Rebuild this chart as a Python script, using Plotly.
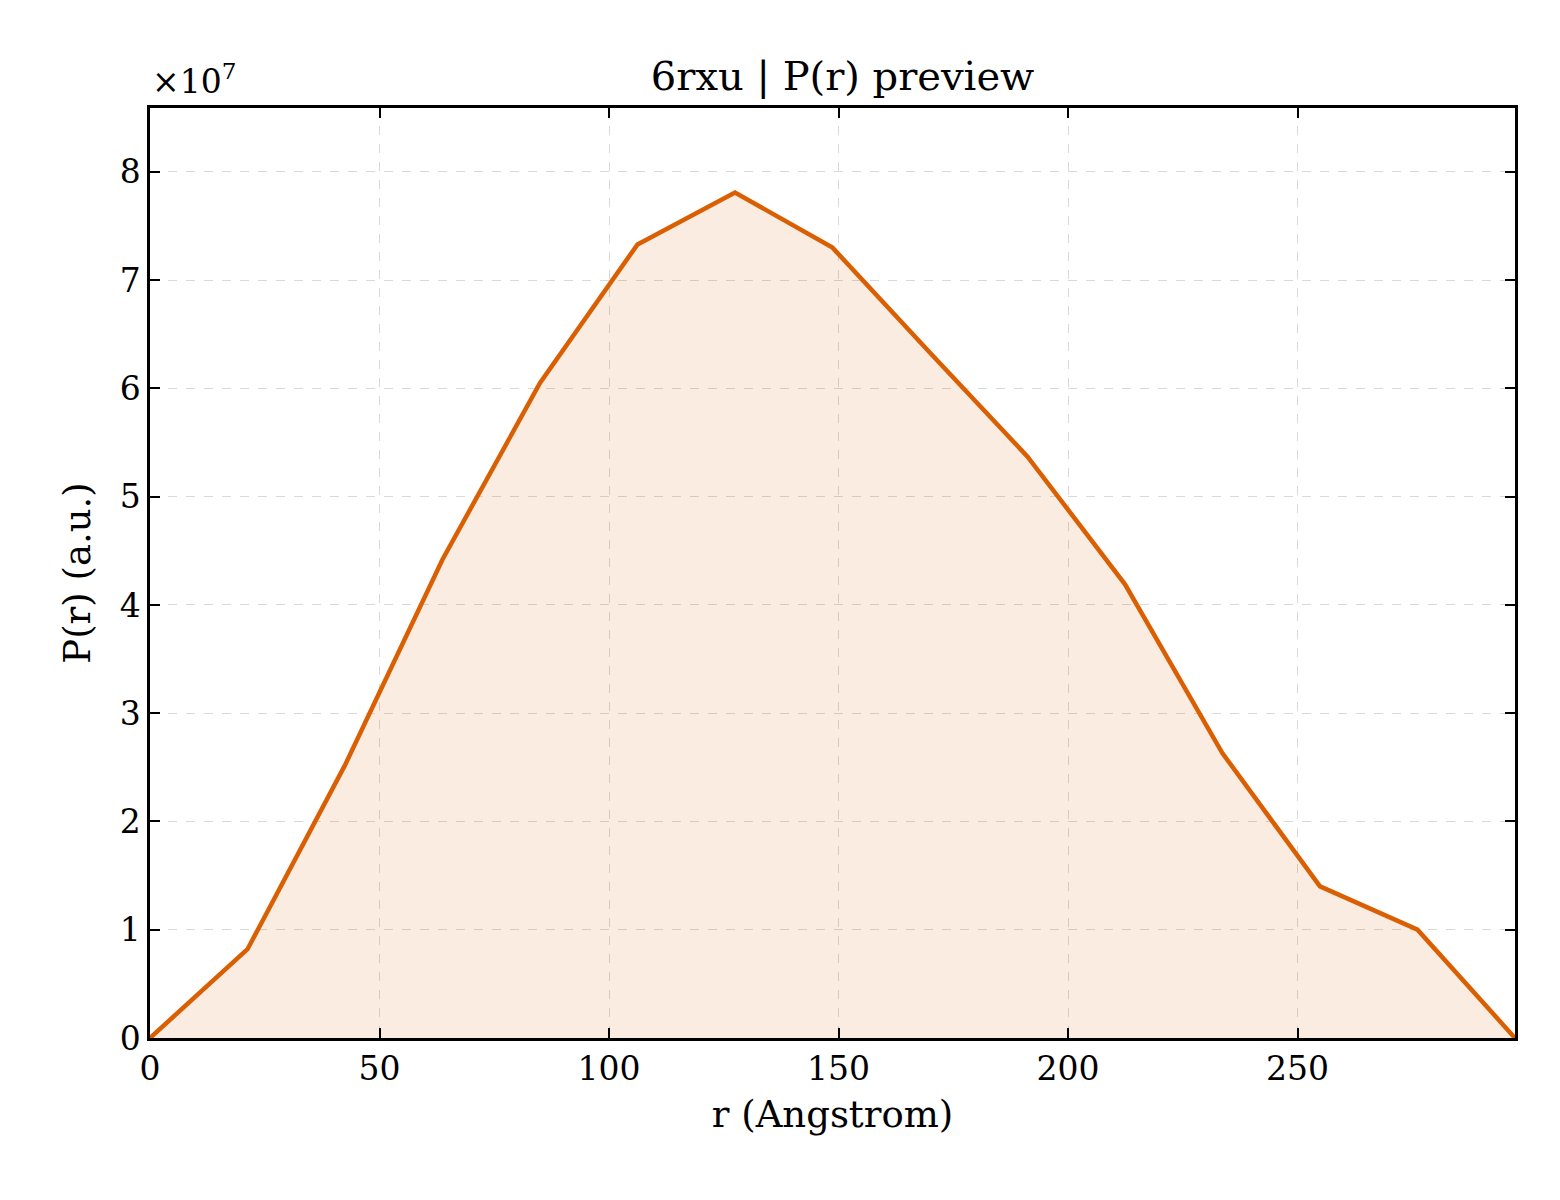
import plotly.graph_objects as go

# P(r) values (in units of 1e7)
r = [0, 21.24, 42.48, 63.72, 84.96, 106.2, 127.44, 148.68, 169.92, 191.16, 212.4, 233.64, 254.88, 276.12, 297.36]
pr = [0, 0.82, 2.52, 4.42, 6.05, 7.33, 7.81, 7.30, 6.33, 5.37, 4.19, 2.63, 1.40, 1.00, 0]

color = "#d95f02"
font = "DejaVu Serif"

fig = go.Figure()
fig.add_trace(go.Scatter(
    x=r, y=pr, mode="lines",
    line=dict(color=color, width=4.5),
    fill="tozeroy", fillcolor="rgba(217,95,2,0.12)",
))

axis_common = dict(
    showline=True, linecolor="black", linewidth=2.5, mirror="ticks",
    ticks="inside", ticklen=10, tickwidth=2, tickcolor="black",
    showgrid=True, gridcolor="rgba(0,0,0,0.15)", griddash="dash", gridwidth=1,
    zeroline=False, tickfont=dict(family=font, size=33, color="black"),
    title_font=dict(family=font, size=37, color="black"),
)

fig.update_layout(
    width=1560, height=1200,
    margin=dict(l=142, r=53, t=100, b=170),
    paper_bgcolor="white", plot_bgcolor="white",
    showlegend=False,
    title=dict(text="6rxu | P(r) preview", x=0.535, xanchor="center", y=0.955,
               font=dict(family=font, size=40, color="black")),
    xaxis=dict(range=[0, 297.36], tickvals=[0, 50, 100, 150, 200, 250],
               title_text="r (Angstrom)", title_standoff=14, **axis_common),
    yaxis=dict(range=[0, 8.59], tickvals=list(range(9)),
               title_text="P(r) (a.u.)", title_standoff=18, **axis_common),
    annotations=[dict(text="×10<sup>7</sup>", xref="paper", yref="paper",
                      x=0, y=1.005, xanchor="left", yanchor="bottom", showarrow=False,
                      font=dict(family=font, size=33, color="black"))],
)

fig.write_html("out.html")
